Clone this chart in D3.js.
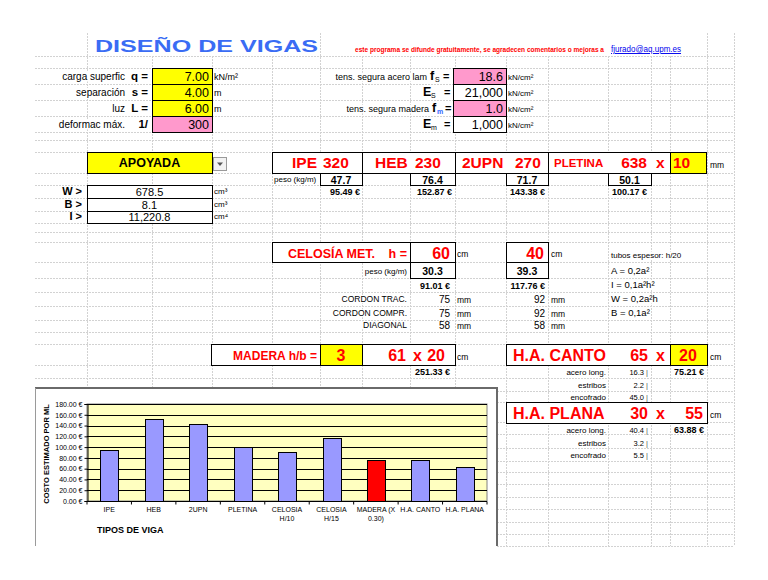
<!DOCTYPE html>
<html><head><meta charset="utf-8">
<script src="https://cdn.jsdelivr.net/npm/d3@7"></script>
<style>body{margin:0;background:#fff}svg{display:block}</style>
</head><body>
<script>
// ---------------- DATA ----------------
const chartCategories = ["IPE","HEB","2UPN","PLETINA","CELOSIA\nH/10","CELOSIA\nH/15","MADERA (X\n0.30)","H.A. CANTO","H.A. PLANA"];
const chartCosts = [95.49,152.87,143.38,100.17,91.01,117.76,75.40,75.21,63.88];
const highlightedCategory = "MADERA (X\n0.30)";
const yTickValues = [0,20,40,60,80,100,120,140,160,180];

const loadLabels = ["carga superfic","separación","luz","deformac máx."];
const loadSymbols = ["q =","s =","L =","1/"];
const loadValues = ["7.00","4.00","6.00","300"];
const loadUnits = ["kN/m²","m","m",""];

const materialLabels = ["tens. segura acero lam","","tens. segura madera",""];
const materialSymbols = ["f","E","f","E"];
const materialSubs = ["S","S","m","m"];
const materialValues = ["18.6","21,000","1.0","1,000"];

const sectionLabels = ["W >","B >","I >"];
const sectionValues = ["678.5","8.1","11,220.8"];
const sectionUnits = ["cm³","cm³","cm⁴"];

const profileNames = ["IPE","HEB","2UPN"];
const profileSizes = ["320","230","270"];
const profileWeights = ["47.7","76.4","71.7","50.1"];
const profileCosts = ["95.49 €","152.87 €","143.38 €","100.17 €"];
const pletina = ["PLETINA","638","x","10"];

const celosiaHeights = ["60","40"];
const celosiaWeights = ["30.3","39.3"];
const celosiaCosts = ["91.01 €","117.76 €"];
const cordonLabels = ["CORDON TRAC.","CORDON COMPR.","DIAGONAL"];
const cordonA = ["75","75","58"];
const cordonB = ["92","92","58"];
const tubeNotes = ["tubos espesor: h/20","A = 0,2a²","I = 0,1a²h²","W = 0,2a²h","B = 0,1a²"];

const madera = ["3","61","x","20"];
const maderaCost = "251.33 €";

const haCanto = ["65","x","20"];
const haPlana = ["30","x","55"];
const haRowLabels = ["acero long.","estribos","encofrado"];
const haCantoParts = ["16.3","2.2","45.0"];
const haPlanaParts = ["40.4","3.2","5.5"];
const haCosts = ["75.21 €","63.88 €"];

// ---------------- LAYOUT ----------------
const FONT = "'Liberation Sans', Arial, sans-serif";
const RED = "#ff0000";
const YEL = "#ffff00";
const PINK = "#ff99cc";
const rowsY = [56,68,84,100,116,132,140,152,173,185,198,211,223,232,242,262,278,292,306,320,332,344,365,378,391,402,422,434,448,461,472,484,497,509,522,534,546];
const colsX = [87,152,212,272,320,362,410,455,506,548,608,651,670,707,734];

const svg = d3.select("body").append("svg").attr("width",768).attr("height",580);
svg.append("rect").attr("width",768).attr("height",580).attr("fill","#fff");

// spreadsheet grid
const grid = svg.append("g").attr("stroke","#d2d2d2").attr("stroke-dasharray","2,1").attr("shape-rendering","crispEdges");
rowsY.forEach(r => grid.append("line").attr("x1",35).attr("x2",734).attr("y1",r+0.5).attr("y2",r+0.5));
colsX.forEach(c => {
  const top = [87,320,707,734].includes(c) ? 33 : 56;
  grid.append("line").attr("x1",c+0.5).attr("x2",c+0.5).attr("y1",top).attr("y2",546);
});

const layer = svg.append("g");
function txt(x, y, s, o = {}) {
  const t = layer.append("text").attr("x",x).attr("y",y).text(s)
    .attr("font-family",FONT).attr("font-size",o.size||10)
    .attr("font-weight",o.bold?"bold":"normal").attr("fill",o.color||"#000")
    .attr("text-anchor",o.anchor||"start");
  if (o.len) t.attr("textLength",o.len).attr("lengthAdjust","spacingAndGlyphs");
  if (o.deco) t.attr("text-decoration",o.deco);
  if (o.clear) {
    const b = t.node().getBBox();
    layer.insert("rect", () => t.node()).attr("x",b.x-1).attr("y",y-(o.size||10)*0.8).attr("width",b.width+2).attr("height",(o.size||10)*0.95).attr("fill","#fff");
  }
  return t;
}
function box(x0,y0,x1,y1,fill) {
  return layer.append("rect").attr("x",x0+0.5).attr("y",y0+0.5).attr("width",x1-x0).attr("height",y1-y0)
    .attr("fill",fill||"#fff").attr("stroke","#000").attr("stroke-width",1).attr("shape-rendering","crispEdges");
}

// title row
txt(95,52,"DISEÑO DE VIGAS",{size:17,bold:true,color:"#3a6cf4",len:223,clear:true});
txt(355,52,"este programa se difunde gratuitamente, se agradecen comentarios o mejoras a",{size:7,bold:true,color:RED,len:249,clear:true});
txt(611,52,"fjurado@aq.upm.es",{size:9.5,color:"#0000ee",deco:"underline",len:70,clear:true});

// load inputs
const loadRows = [[68,84],[84,100],[100,116],[116,132]];
loadRows.forEach(([a,b],i) => {
  txt(125,b-4,loadLabels[i],{size:10,anchor:"end",clear:true});
  txt(148,b-4,loadSymbols[i],{size:11.5,bold:true,anchor:"end"});
  box(152,a,212,b,i<3?YEL:PINK);
  txt(209,b-3,loadValues[i],{size:12.5,anchor:"end"});
  if (loadUnits[i]) txt(214,b-4,loadUnits[i],{size:9});
});

// material inputs
const symX = [430,423,432,423];
const subX = [435,431,437,431];
const eqX = [443,444,445,444];
loadRows.forEach(([a,b],i) => {
  if (materialLabels[i]) txt(i===0?427:429,b-4,materialLabels[i],{size:9,anchor:"end",clear:true});
  txt(symX[i],b-4,materialSymbols[i],{size:12.5,bold:true});
  txt(subX[i],b-2,materialSubs[i],{size:7,bold:i===2,color:i===2?"#3366ff":"#000"});
  txt(eqX[i],b-4,"=",{size:11,bold:true});
  box(453,a,506,b,(i===0||i===2)?PINK:"#fff");
  txt(503,b-3,materialValues[i],{size:12.5,anchor:"end"});
  txt(508,b-4,"kN/cm²",{size:8});
});

// support type
box(87,152,212,173,YEL);
txt(149.5,167,"APOYADA",{size:12.5,bold:true,anchor:"middle"});
layer.append("rect").attr("x",213.5).attr("y",157.5).attr("width",13).attr("height",13).attr("fill","#f2f2f2").attr("stroke","#9a9a9a");
layer.append("path").attr("d","M217,162.5 L223,162.5 L220,166 Z").attr("fill","#555");

// section properties
const secRows = [[185,198],[198,211],[211,223]];
secRows.forEach(([a,b],i) => {
  txt(82,b-3,sectionLabels[i],{size:11,bold:true,anchor:"end"});
  box(87,a,212,b);
  txt(149.5,b-2.5,sectionValues[i],{size:11,anchor:"middle"});
  txt(214,b-4,sectionUnits[i],{size:8});
});

// profiles
box(272,152,362,173); box(362,152,455,173); box(455,152,548,173); box(548,152,670,173); box(670,152,706,173,YEL);
const profX = [[292,323],[375,415],[462,515]];
profileNames.forEach((n,i) => {
  txt(profX[i][0],168,n,{size:15.5,bold:true,color:RED});
  txt(profX[i][1],168,profileSizes[i],{size:15.5,bold:true,color:RED});
});
txt(554,167,pletina[0],{size:11.5,bold:true,color:RED});
txt(647,168,pletina[1],{size:15.5,bold:true,color:RED,anchor:"end"});
txt(656,168,pletina[2],{size:15.5,bold:true,color:RED});
txt(673,168,pletina[3],{size:15.5,bold:true,color:RED});
txt(710,168,"mm",{size:8.5});
txt(274,182,"peso (kg/m)",{size:8});
const wBoxes = [[320,362],[410,455],[506,548],[608,651]];
wBoxes.forEach(([a,b],i) => {
  box(a,173,b,185);
  txt((a+b)/2,183.5,profileWeights[i],{size:10.5,bold:true,anchor:"middle"});
});
const costRight = [360,452,545,647];
profileCosts.forEach((c,i) => txt(costRight[i],195,c,{size:9,bold:true,anchor:"end"}));

// celosía
box(272,242,410,262); box(410,242,455,262); box(506,242,548,262);
txt(288,258,"CELOSÍA MET.",{size:12.5,bold:true,color:RED});
txt(407,258,"h =",{size:12.5,bold:true,color:RED,anchor:"end"});
txt(450,259,celosiaHeights[0],{size:16,bold:true,color:RED,anchor:"end"});
txt(544,259,celosiaHeights[1],{size:16,bold:true,color:RED,anchor:"end"});
txt(457,257,"cm",{size:8.5});
txt(551,257,"cm",{size:8.5});
txt(407,274,"peso (kg/m)",{size:8,anchor:"end",clear:true});
box(410,262,455,278); box(506,262,548,278);
txt(432.5,275,celosiaWeights[0],{size:10.5,bold:true,anchor:"middle"});
txt(527,275,celosiaWeights[1],{size:10.5,bold:true,anchor:"middle"});
txt(450,289,celosiaCosts[0],{size:9,bold:true,anchor:"end"});
txt(545,289,celosiaCosts[1],{size:9,bold:true,anchor:"end"});
const cordRows = [[292,306],[306,320],[320,332]];
cordRows.forEach(([a,b],i) => {
  txt(407,b-4,cordonLabels[i],{size:8.5,anchor:"end",clear:true});
  txt(450,b-3.5,cordonA[i],{size:10,anchor:"end"});
  txt(457,b-3.5,"mm",{size:8.5});
  txt(545,b-3.5,cordonB[i],{size:10,anchor:"end"});
  txt(551,b-3.5,"mm",{size:8.5});
});
const noteY = [258,274,288,302,316];
tubeNotes.forEach((n,i) => txt(611,noteY[i],n,{size:i===0?8:9.5,clear:true}));

// madera
box(211,344,320,365); box(320,344,362,365,YEL); box(362,344,455,365);
txt(317,360,"MADERA  h/b =",{size:12,bold:true,color:RED,anchor:"end"});
txt(341,361,madera[0],{size:16,bold:true,color:RED,anchor:"middle"});
txt(406,361,madera[1],{size:16,bold:true,color:RED,anchor:"end"});
txt(413,361,madera[2],{size:16,bold:true,color:RED});
txt(445,361,madera[3],{size:16,bold:true,color:RED,anchor:"end"});
txt(457,360,"cm",{size:8.5});
txt(450,375,maderaCost,{size:9,bold:true,anchor:"end"});

// hormigón armado
function haBlock(top, title, vals, yellow, parts, cost) {
  box(506,top,670,top+21); box(670,top,707,top+21,yellow?YEL:"#fff");
  if (!yellow) layer.append("line").attr("x1",670.5).attr("x2",670.5).attr("y1",top+1).attr("y2",top+21).attr("stroke","#fff");
  txt(513,top+17,title,{size:16,bold:true,color:RED});
  txt(648,top+17,vals[0],{size:16,bold:true,color:RED,anchor:"end"});
  txt(656,top+17,vals[1],{size:16,bold:true,color:RED});
  if (yellow) txt(688,top+17,vals[2],{size:16,bold:true,color:RED,anchor:"middle"});
  else txt(703,top+17,vals[2],{size:16,bold:true,color:RED,anchor:"end"});
  txt(710,top+16,"cm",{size:8.5});
  const base = [top+31, top+44, top+56];
  haRowLabels.forEach((l,i) => {
    txt(606,base[i],l,{size:8,anchor:"end"});
    txt(644,base[i],parts[i],{size:7.5,anchor:"end"});
    txt(646,base[i],"|",{size:7.5,color:"#555"});
  });
  txt(704,base[0],cost,{size:9,bold:true,anchor:"end"});
}
haBlock(344,"H.A. CANTO",haCanto,true,haCantoParts,haCosts[0]);
haBlock(402,"H.A. PLANA",haPlana,false,haPlanaParts,haCosts[1]);

// ---------------- CHART ----------------
const ch = svg.append("g");
ch.append("rect").attr("x",35).attr("y",388).attr("width",462).attr("height",170).attr("fill","#fff");
ch.append("line").attr("x1",35).attr("x2",498).attr("y1",388).attr("y2",388).attr("stroke","#6a6a6a").attr("stroke-width",2);
ch.append("line").attr("x1",497).attr("x2",497).attr("y1",388).attr("y2",546).attr("stroke","#6a6a6a").attr("stroke-width",2);
ch.append("line").attr("x1",35.5).attr("x2",35.5).attr("y1",388).attr("y2",546).attr("stroke","#9a9a9a").attr("stroke-width",1);

const x = d3.scaleBand().domain(chartCategories).range([87,487]).paddingInner(0.6).paddingOuter(0.3);
const y = d3.scaleLinear().domain([0,180]).range([501,404]);

ch.append("rect").attr("x",87).attr("y",404).attr("width",400).attr("height",97).attr("fill","#ffffc0").attr("stroke","#808080");
ch.append("g").selectAll("line").data(yTickValues.filter(d=>d>0)).join("line")
  .attr("x1",87).attr("x2",487).attr("y1",d=>Math.round(y(d))+0.5).attr("y2",d=>Math.round(y(d))+0.5)
  .attr("stroke","#000").attr("stroke-width",1).attr("shape-rendering","crispEdges");

ch.append("g").selectAll("rect").data(chartCategories).join("rect")
  .attr("x",d=>Math.round(x(d))+0.5).attr("width",Math.round(x.bandwidth()))
  .attr("y",(d,i)=>Math.round(y(chartCosts[i]))+0.5).attr("height",(d,i)=>Math.round(y(0))-Math.round(y(chartCosts[i])))
  .attr("fill",d=>d===highlightedCategory?"#ff0000":"#9999ff").attr("stroke","#000").attr("stroke-width",1)
  .attr("shape-rendering","crispEdges");

const yAxis = ch.append("g").attr("transform","translate(87.5,0)")
  .call(d3.axisLeft(y).tickValues(yTickValues).tickSize(3).tickPadding(2).tickFormat(d=>d3.format(".2f")(d)+" €"));
yAxis.selectAll("text").attr("font-family",FONT).attr("font-size",7).attr("fill","#000");
yAxis.selectAll("line,path").attr("stroke","#000");

const xAxis = ch.append("g").attr("transform","translate(0,501.5)")
  .call(d3.axisBottom(x).tickSize(0).tickPadding(6).tickSizeOuter(0));
xAxis.selectAll("path").attr("stroke","#000").attr("d","M87,0H487");
xAxis.selectAll(".tick text").each(function(d){
  const t = d3.select(this).text(null).attr("font-family",FONT).attr("font-size",7).attr("fill","#000");
  d.split("\n").forEach((line,i)=>t.append("tspan").attr("x",0).attr("dy",i===0?"0.71em":"1.15em").text(line));
});
const bounds = chartCategories.map(d=>x(d)-x.step()*x.paddingInner()/2).concat([487]);
xAxis.selectAll("line.sep").data(bounds).join("line").attr("class","sep")
  .attr("x1",d=>d).attr("x2",d=>d).attr("y1",0).attr("y2",3).attr("stroke","#000");

ch.append("text").attr("transform","translate(49,454) rotate(-90)").attr("text-anchor","middle")
  .attr("font-family",FONT).attr("font-size",7.5).attr("font-weight","bold").text("COSTO ESTIMADO POR ML");
ch.append("text").attr("x",97).attr("y",533).attr("font-family",FONT).attr("font-size",9).attr("font-weight","bold").text("TIPOS DE VIGA");
</script>
</body></html>
